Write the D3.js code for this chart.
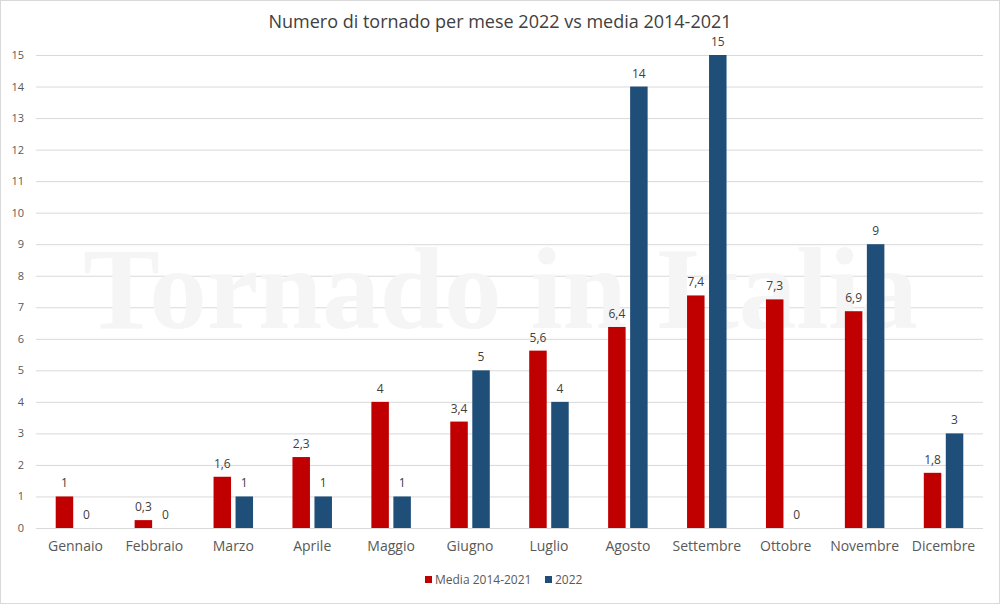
<!DOCTYPE html>
<html>
<head>
<meta charset="utf-8">
<script src="https://cdn.jsdelivr.net/npm/d3@7"></script>
<style>
  body { margin: 0; background: #fff; }
  svg { display: block; font-family: "Open Sans", "Noto Sans", sans-serif; }
</style>
</head>
<body>
<div id="chart"></div>
<script>
// Data
const months = ["Gennaio", "Febbraio", "Marzo", "Aprile", "Maggio", "Giugno",
    "Luglio", "Agosto", "Settembre", "Ottobre", "Novembre", "Dicembre"];
const media = [1, 0.25, 1.625, 2.25, 4, 3.375, 5.625, 6.375, 7.375, 7.25, 6.875, 1.75];
const y2022 = [0, 0, 1, 1, 1, 5, 4, 14, 15, 0, 9, 3];
const yTicks = d3.range(0, 16);
const seriesNames = ["Media 2014-2021", "2022"];
const colors = ["#C00000", "#1F4E79"];

const width = 1000, height = 604;
const margin = { top: 55, right: 17, bottom: 76, left: 36 };

const svg = d3.select("#chart").append("svg")
    .attr("width", width)
    .attr("height", height);

// Border
svg.append("rect")
    .attr("x", 0.5).attr("y", 0.5)
    .attr("width", width - 1).attr("height", height - 1)
    .attr("fill", "#fff")
    .attr("stroke", "#d9d9d9");

const x = d3.scaleBand()
    .domain(months)
    .range([margin.left, width - margin.right]);

const y = d3.scaleLinear()
    .domain([0, 15])
    .range([height - margin.bottom, margin.top]);

// Gridlines
svg.append("g")
    .selectAll("line")
    .data(yTicks)
    .join("line")
    .attr("x1", margin.left)
    .attr("x2", width - margin.right)
    .attr("y1", d => y(d) + 0.5)
    .attr("y2", d => y(d) + 0.5)
    .attr("stroke", "#d9d9d9")
    .attr("stroke-width", 1);

// Watermark
svg.append("text")
    .attr("x", 83)
    .attr("y", 328)
    .attr("textLength", 835)
    .attr("lengthAdjust", "spacingAndGlyphs")
    .style("font-family", "'Liberation Serif', 'DejaVu Serif', serif")
    .style("font-weight", "bold")
    .style("font-size", "116px")
    .style("fill", "#f5f5f5")
    .text("Tornado in Italia");

// Y axis labels
const yAxis = svg.append("g")
    .attr("transform", `translate(${margin.left - 12},0)`)
    .call(d3.axisLeft(y).tickValues(yTicks).tickSize(0).tickPadding(0));
yAxis.select(".domain").remove();
yAxis.selectAll("text")
    .style("font-family", "'Open Sans', sans-serif")
    .style("font-size", "11px")
    .style("fill", "#595959");

// X axis labels
const xAxis = svg.append("g")
    .attr("transform", `translate(0,${height - margin.bottom + 13})`)
    .call(d3.axisBottom(x).tickSize(0).tickPadding(0));
xAxis.select(".domain").remove();
xAxis.selectAll("text")
    .style("font-family", "'Open Sans', sans-serif")
    .style("font-size", "14px")
    .style("fill", "#595959");

// Bars
const barW = 17.5, gap = 4.5;
const fmt = v => Number.isInteger(v) ? String(v) : v.toFixed(1).replace(".", ",");

[media, y2022].forEach((series, si) => {
    const offset = si === 0 ? -gap / 2 - barW : gap / 2;
    const g = svg.append("g");
    g.selectAll("rect")
        .data(series)
        .join("rect")
        .attr("x", (d, i) => x(months[i]) + x.bandwidth() / 2 + offset)
        .attr("y", d => y(d))
        .attr("width", barW)
        .attr("height", d => y(0) - y(d))
        .attr("fill", colors[si]);
    g.selectAll("text")
        .data(series)
        .join("text")
        .attr("x", (d, i) => x(months[i]) + x.bandwidth() / 2 + offset + barW / 2)
        .attr("y", d => y(d) - 9)
        .attr("text-anchor", "middle")
        .style("font-size", "12px")
        .style("fill", "#404040")
        .text(d => fmt(d));
});

// Title
svg.append("text")
    .attr("x", width / 2)
    .attr("y", 28)
    .attr("text-anchor", "middle")
    .style("font-size", "18px")
    .style("fill", "#404040")
    .text("Numero di tornado per mese 2022 vs media 2014-2021");

// Legend
const legend = svg.append("g").attr("transform", "translate(425,580)");
const legendX = [0, 120];
seriesNames.forEach((name, i) => {
    legend.append("rect")
        .attr("x", legendX[i])
        .attr("y", -4)
        .attr("width", 7)
        .attr("height", 7)
        .attr("fill", colors[i]);
    legend.append("text")
        .attr("x", legendX[i] + 10)
        .attr("y", 4)
        .style("font-size", "12px")
        .style("fill", "#595959")
        .text(name);
});
</script>
</body>
</html>
